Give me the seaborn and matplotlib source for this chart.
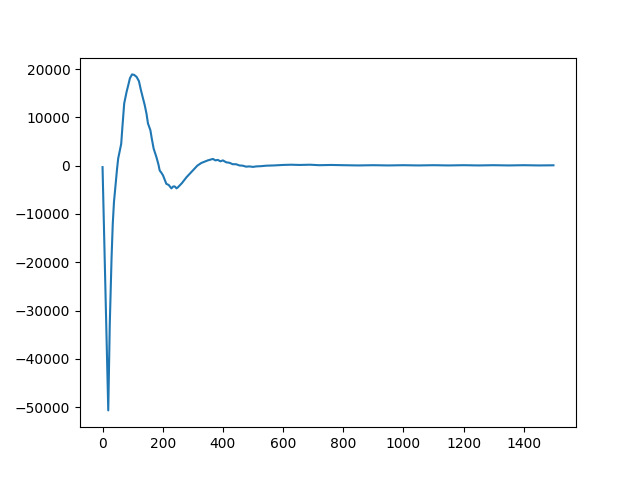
"""
    Line chart: damped response curve, read off the reference picture.
"""
import matplotlib
matplotlib.use("Agg")
import matplotlib.pyplot as plt
import seaborn as sns

# sample positions (x) and values (y)
x_vals = [0, 19, 24, 30, 34, 38, 44, 48, 52, 57, 62, 66, 72, 80, 86, 91, 98,
          105, 113, 121, 127, 133, 140, 146, 151, 159, 164, 170, 179, 186,
          190, 196, 201, 212, 220, 229, 235, 240, 246, 251, 264, 279, 300,
          315, 328, 350, 367, 375, 383, 392, 400, 411, 422, 433, 444, 455,
          466, 477, 488, 500, 511, 527, 544, 570, 599, 627, 654, 690, 720,
          760, 800, 850, 900, 950, 1000, 1050, 1100, 1150, 1200, 1250,
          1300, 1350, 1400, 1450, 1499]
y_vals = [-300, -50670, -32900, -19000, -12000, -7500, -3500, -800, 1500,
          3000, 4500, 8000, 12900, 15300, 16800, 18100, 18900, 18800, 18400,
          17500, 15800, 14300, 12600, 10800, 8750, 7350, 5500, 3500, 1800,
          200, -1000, -1500, -2000, -3750, -4000, -4700, -4300, -4300,
          -4700, -4450, -3600, -2400, -1000, 0, 550, 1100, 1400, 1100, 1200,
          900, 1100, 700, 600, 300, 300, 50, 0, -200, -150, -250, -150, -100,
          0, 50, 150, 200, 150, 200, 100, 150, 100, 50, 100, 50, 100, 50,
          100, 50, 100, 50, 100, 50, 100, 50, 80]

fig, ax = plt.subplots(figsize=(6.4, 4.8), dpi=100)
sns.lineplot(x=x_vals, y=y_vals, ax=ax, color="#1f77b4", lw=1.5)

plt.savefig("out.png")
plt.close()
